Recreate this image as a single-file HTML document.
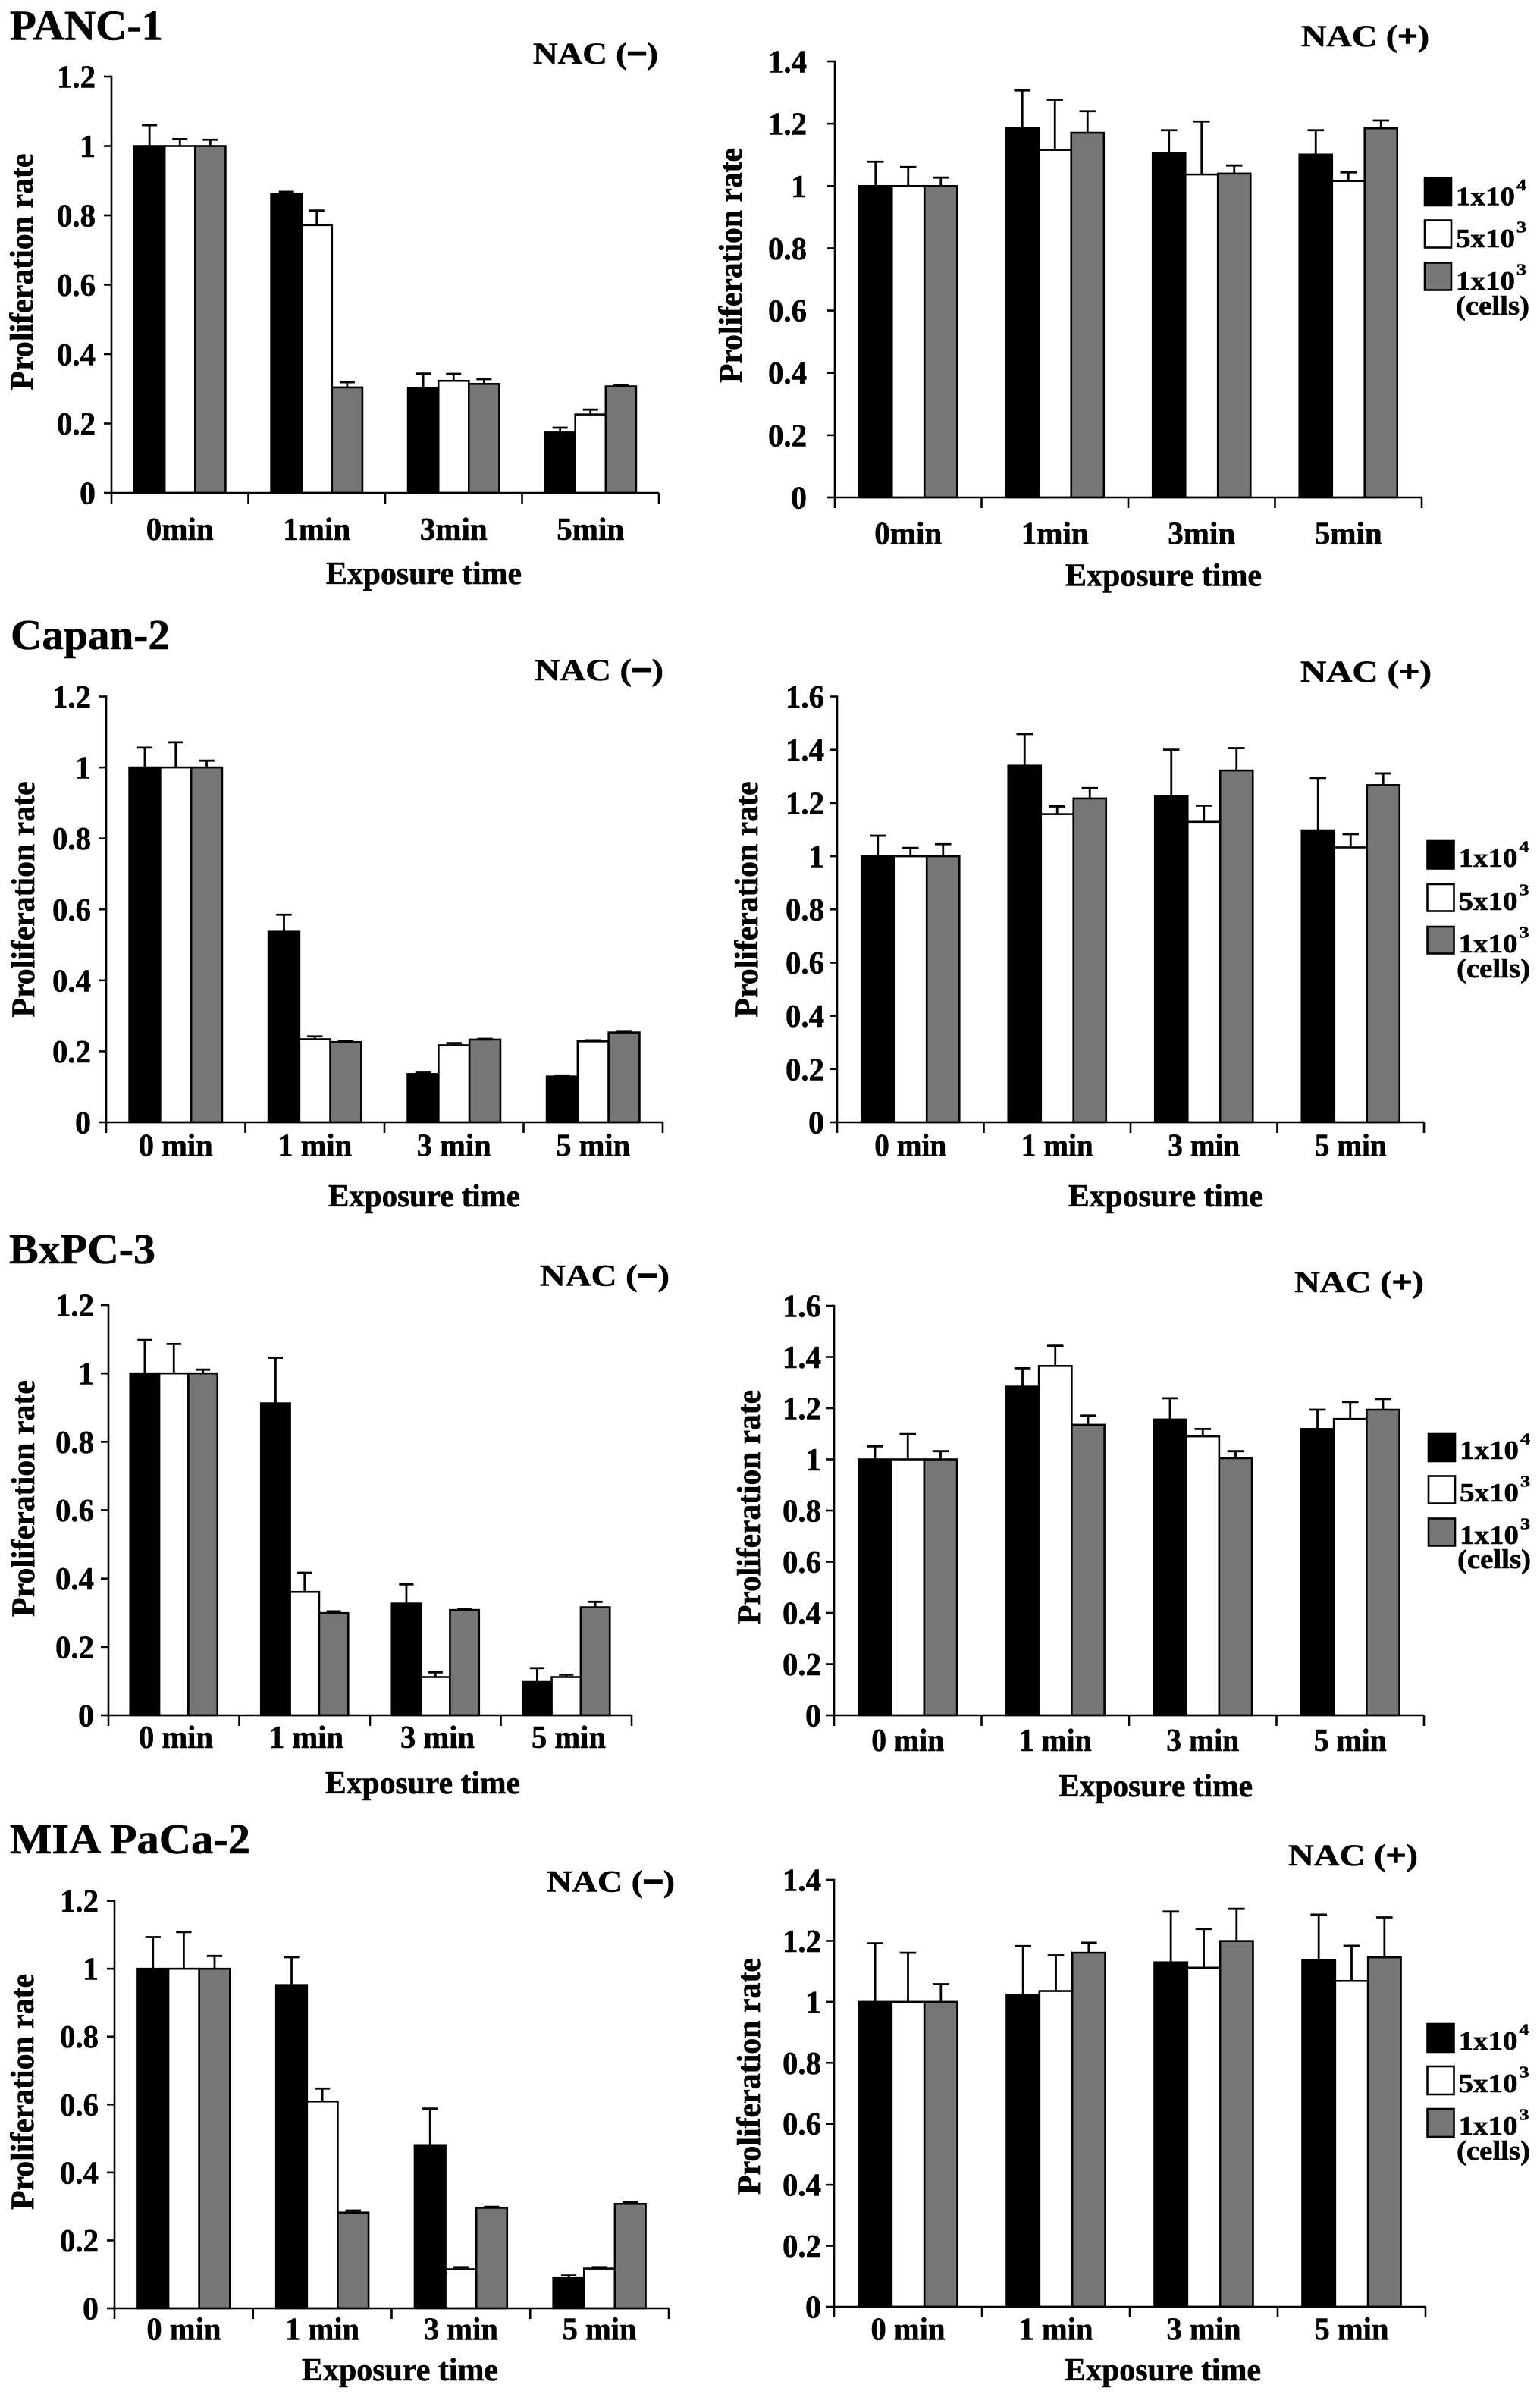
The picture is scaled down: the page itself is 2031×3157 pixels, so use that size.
<!DOCTYPE html>
<html>
<head>
<meta charset="utf-8">
<style>
html,body{margin:0;padding:0;background:#fff;}
svg{display:block;}
text{font-family:"Liberation Serif","Times New Roman",serif;font-weight:700;fill:#000;stroke:#000;stroke-width:0.6px;}
.t{font-size:42px;text-anchor:end;}
.x{font-size:42px;text-anchor:middle;}
.e{font-size:42px;text-anchor:middle;}
.y{font-size:43px;text-anchor:middle;}
.n{font-size:40px;}
.h{font-size:56px;}
.l{font-size:35px;}
.s{font-size:21px;}
.c{font-size:36px;}
.m{stroke-width:3px;}
.p{stroke-width:1.6px;}
</style>
</head>
<body>
<svg id="c" width="2031" height="3157" viewBox="0 0 2031 3157" xmlns="http://www.w3.org/2000/svg">
<rect x="0" y="0" width="2031" height="3157" fill="#fff"/>
<g id="shapes"></g>

<!-- Titles -->
<text class="h" x="13" y="52.5" textLength="202" lengthAdjust="spacingAndGlyphs">PANC-1</text>
<text class="h" x="14" y="856" textLength="210" lengthAdjust="spacingAndGlyphs">Capan-2</text>
<text class="h" x="12" y="1666" textLength="193" lengthAdjust="spacingAndGlyphs">BxPC-3</text>
<text class="h" x="13" y="2444" textLength="317" lengthAdjust="spacingAndGlyphs">MIA PaCa-2</text>

<!-- NAC labels -->
<text class="n" x="703" y="84" textLength="165" lengthAdjust="spacingAndGlyphs">NAC (<tspan class="m">−</tspan>)</text>
<text class="n" x="1716" y="61" textLength="169" lengthAdjust="spacingAndGlyphs">NAC (<tspan class="p">+</tspan>)</text>
<text class="n" x="705" y="897" textLength="170" lengthAdjust="spacingAndGlyphs">NAC (<tspan class="m">−</tspan>)</text>
<text class="n" x="1715" y="899" textLength="173" lengthAdjust="spacingAndGlyphs">NAC (<tspan class="p">+</tspan>)</text>
<text class="n" x="712" y="1695.5" textLength="171" lengthAdjust="spacingAndGlyphs">NAC (<tspan class="m">−</tspan>)</text>
<text class="n" x="1707" y="1704" textLength="171" lengthAdjust="spacingAndGlyphs">NAC (<tspan class="p">+</tspan>)</text>
<text class="n" x="721" y="2494.5" textLength="169" lengthAdjust="spacingAndGlyphs">NAC (<tspan class="m">−</tspan>)</text>
<text class="n" x="1699" y="2460" textLength="171" lengthAdjust="spacingAndGlyphs">NAC (<tspan class="p">+</tspan>)</text>

<!-- Y labels -->
<text class="y" transform="translate(43,358.5) rotate(-90)" textLength="312" lengthAdjust="spacingAndGlyphs">Proliferation rate</text>
<text class="y" transform="translate(978,350) rotate(-90)" textLength="310" lengthAdjust="spacingAndGlyphs">Proliferation rate</text>
<text class="y" transform="translate(45,1186) rotate(-90)" textLength="311" lengthAdjust="spacingAndGlyphs">Proliferation rate</text>
<text class="y" transform="translate(999,1186) rotate(-90)" textLength="311" lengthAdjust="spacingAndGlyphs">Proliferation rate</text>
<text class="y" transform="translate(45,1976) rotate(-90)" textLength="312" lengthAdjust="spacingAndGlyphs">Proliferation rate</text>
<text class="y" transform="translate(1002,1987.5) rotate(-90)" textLength="309" lengthAdjust="spacingAndGlyphs">Proliferation rate</text>
<text class="y" transform="translate(44,2758.5) rotate(-90)" textLength="311" lengthAdjust="spacingAndGlyphs">Proliferation rate</text>
<text class="y" transform="translate(1002,2738) rotate(-90)" textLength="312" lengthAdjust="spacingAndGlyphs">Proliferation rate</text>

<!-- Exposure time -->
<text class="e" x="559" y="770" textLength="258" lengthAdjust="spacingAndGlyphs">Exposure time</text>
<text class="e" x="1534.5" y="772.5" textLength="259" lengthAdjust="spacingAndGlyphs">Exposure time</text>
<text class="e" x="559.5" y="1591" textLength="253" lengthAdjust="spacingAndGlyphs">Exposure time</text>
<text class="e" x="1537.5" y="1591" textLength="257" lengthAdjust="spacingAndGlyphs">Exposure time</text>
<text class="e" x="557.5" y="2365" textLength="257" lengthAdjust="spacingAndGlyphs">Exposure time</text>
<text class="e" x="1524" y="2369" textLength="256" lengthAdjust="spacingAndGlyphs">Exposure time</text>
<text class="e" x="527.5" y="3139" textLength="259" lengthAdjust="spacingAndGlyphs">Exposure time</text>
<text class="e" x="1533.5" y="3139" textLength="259" lengthAdjust="spacingAndGlyphs">Exposure time</text>

<!-- X category labels -->
<text class="x" x="237.25" y="712" textLength="89" lengthAdjust="spacingAndGlyphs">0min</text>
<text class="x" x="417.75" y="712" textLength="89" lengthAdjust="spacingAndGlyphs">1min</text>
<text class="x" x="598.25" y="712" textLength="89" lengthAdjust="spacingAndGlyphs">3min</text>
<text class="x" x="778.75" y="712" textLength="89" lengthAdjust="spacingAndGlyphs">5min</text>

<text class="x" x="1197.75" y="717.5" textLength="89" lengthAdjust="spacingAndGlyphs">0min</text>
<text class="x" x="1391.25" y="717.5" textLength="89" lengthAdjust="spacingAndGlyphs">1min</text>
<text class="x" x="1584.75" y="717.5" textLength="89" lengthAdjust="spacingAndGlyphs">3min</text>
<text class="x" x="1778.25" y="717.5" textLength="89" lengthAdjust="spacingAndGlyphs">5min</text>

<text class="x" x="231.75" y="1524.5" textLength="98" lengthAdjust="spacingAndGlyphs">0 min</text>
<text class="x" x="415.25" y="1524.5" textLength="98" lengthAdjust="spacingAndGlyphs">1 min</text>
<text class="x" x="598.75" y="1524.5" textLength="98" lengthAdjust="spacingAndGlyphs">3 min</text>
<text class="x" x="782.25" y="1524.5" textLength="98" lengthAdjust="spacingAndGlyphs">5 min</text>

<text class="x" x="1200.75" y="1524.5" textLength="95" lengthAdjust="spacingAndGlyphs">0 min</text>
<text class="x" x="1394.25" y="1524.5" textLength="95" lengthAdjust="spacingAndGlyphs">1 min</text>
<text class="x" x="1587.75" y="1524.5" textLength="95" lengthAdjust="spacingAndGlyphs">3 min</text>
<text class="x" x="1781.25" y="1524.5" textLength="95" lengthAdjust="spacingAndGlyphs">5 min</text>

<text class="x" x="232" y="2305" textLength="98" lengthAdjust="spacingAndGlyphs">0 min</text>
<text class="x" x="404" y="2305" textLength="98" lengthAdjust="spacingAndGlyphs">1 min</text>
<text class="x" x="577" y="2305" textLength="98" lengthAdjust="spacingAndGlyphs">3 min</text>
<text class="x" x="750" y="2305" textLength="98" lengthAdjust="spacingAndGlyphs">5 min</text>

<text class="x" x="1197.25" y="2309" textLength="96" lengthAdjust="spacingAndGlyphs">0 min</text>
<text class="x" x="1391.75" y="2309" textLength="96" lengthAdjust="spacingAndGlyphs">1 min</text>
<text class="x" x="1586.25" y="2309" textLength="96" lengthAdjust="spacingAndGlyphs">3 min</text>
<text class="x" x="1780.75" y="2309" textLength="96" lengthAdjust="spacingAndGlyphs">5 min</text>

<text class="x" x="242.4" y="3085.6" textLength="98" lengthAdjust="spacingAndGlyphs">0 min</text>
<text class="x" x="425.1" y="3085.6" textLength="98" lengthAdjust="spacingAndGlyphs">1 min</text>
<text class="x" x="607.9" y="3085.6" textLength="98" lengthAdjust="spacingAndGlyphs">3 min</text>
<text class="x" x="790.6" y="3085.6" textLength="98" lengthAdjust="spacingAndGlyphs">5 min</text>

<text class="x" x="1197.5" y="3085.6" textLength="98" lengthAdjust="spacingAndGlyphs">0 min</text>
<text class="x" x="1392.5" y="3085.6" textLength="98" lengthAdjust="spacingAndGlyphs">1 min</text>
<text class="x" x="1587.5" y="3085.6" textLength="98" lengthAdjust="spacingAndGlyphs">3 min</text>
<text class="x" x="1782.5" y="3085.6" textLength="98" lengthAdjust="spacingAndGlyphs">5 min</text>

<!-- Y tick labels P1L -->
<text class="t" x="126" y="664.5" textLength="21" lengthAdjust="spacingAndGlyphs">0</text>
<text class="t" x="126" y="573" textLength="51" lengthAdjust="spacingAndGlyphs">0.2</text>
<text class="t" x="126" y="481.5" textLength="51" lengthAdjust="spacingAndGlyphs">0.4</text>
<text class="t" x="126" y="390" textLength="51" lengthAdjust="spacingAndGlyphs">0.6</text>
<text class="t" x="126" y="298.5" textLength="51" lengthAdjust="spacingAndGlyphs">0.8</text>
<text class="t" x="126" y="207" textLength="21" lengthAdjust="spacingAndGlyphs">1</text>
<text class="t" x="126" y="115.5" textLength="51" lengthAdjust="spacingAndGlyphs">1.2</text>
<!-- P1R -->
<text class="t" x="1064" y="670.5" textLength="21" lengthAdjust="spacingAndGlyphs">0</text>
<text class="t" x="1064" y="588.4" textLength="51" lengthAdjust="spacingAndGlyphs">0.2</text>
<text class="t" x="1064" y="506.2" textLength="51" lengthAdjust="spacingAndGlyphs">0.4</text>
<text class="t" x="1064" y="424.1" textLength="51" lengthAdjust="spacingAndGlyphs">0.6</text>
<text class="t" x="1064" y="341.9" textLength="51" lengthAdjust="spacingAndGlyphs">0.8</text>
<text class="t" x="1064" y="259.8" textLength="21" lengthAdjust="spacingAndGlyphs">1</text>
<text class="t" x="1064" y="177.6" textLength="51" lengthAdjust="spacingAndGlyphs">1.2</text>
<text class="t" x="1064" y="95.5" textLength="51" lengthAdjust="spacingAndGlyphs">1.4</text>
<!-- P2L -->
<text class="t" x="120" y="1494.5" textLength="21" lengthAdjust="spacingAndGlyphs">0</text>
<text class="t" x="120" y="1400.9" textLength="51" lengthAdjust="spacingAndGlyphs">0.2</text>
<text class="t" x="120" y="1307.3" textLength="51" lengthAdjust="spacingAndGlyphs">0.4</text>
<text class="t" x="120" y="1213.8" textLength="51" lengthAdjust="spacingAndGlyphs">0.6</text>
<text class="t" x="120" y="1120.2" textLength="51" lengthAdjust="spacingAndGlyphs">0.8</text>
<text class="t" x="120" y="1026.6" textLength="21" lengthAdjust="spacingAndGlyphs">1</text>
<text class="t" x="120" y="933" textLength="51" lengthAdjust="spacingAndGlyphs">1.2</text>
<!-- P2R -->
<text class="t" x="1087" y="1494.5" textLength="21" lengthAdjust="spacingAndGlyphs">0</text>
<text class="t" x="1087" y="1424.3" textLength="51" lengthAdjust="spacingAndGlyphs">0.2</text>
<text class="t" x="1087" y="1354.1" textLength="51" lengthAdjust="spacingAndGlyphs">0.4</text>
<text class="t" x="1087" y="1283.9" textLength="51" lengthAdjust="spacingAndGlyphs">0.6</text>
<text class="t" x="1087" y="1213.7" textLength="51" lengthAdjust="spacingAndGlyphs">0.8</text>
<text class="t" x="1087" y="1143.6" textLength="21" lengthAdjust="spacingAndGlyphs">1</text>
<text class="t" x="1087" y="1073.4" textLength="51" lengthAdjust="spacingAndGlyphs">1.2</text>
<text class="t" x="1087" y="1003.2" textLength="51" lengthAdjust="spacingAndGlyphs">1.4</text>
<text class="t" x="1087" y="933" textLength="51" lengthAdjust="spacingAndGlyphs">1.6</text>
<!-- P3L -->
<text class="t" x="124" y="2276.5" textLength="21" lengthAdjust="spacingAndGlyphs">0</text>
<text class="t" x="124" y="2186.3" textLength="51" lengthAdjust="spacingAndGlyphs">0.2</text>
<text class="t" x="124" y="2096.2" textLength="51" lengthAdjust="spacingAndGlyphs">0.4</text>
<text class="t" x="124" y="2006" textLength="51" lengthAdjust="spacingAndGlyphs">0.6</text>
<text class="t" x="124" y="1915.8" textLength="51" lengthAdjust="spacingAndGlyphs">0.8</text>
<text class="t" x="124" y="1825.7" textLength="21" lengthAdjust="spacingAndGlyphs">1</text>
<text class="t" x="124" y="1735.5" textLength="51" lengthAdjust="spacingAndGlyphs">1.2</text>
<!-- P3R -->
<text class="t" x="1083" y="2276.5" textLength="21" lengthAdjust="spacingAndGlyphs">0</text>
<text class="t" x="1083" y="2209" textLength="51" lengthAdjust="spacingAndGlyphs">0.2</text>
<text class="t" x="1083" y="2141.5" textLength="51" lengthAdjust="spacingAndGlyphs">0.4</text>
<text class="t" x="1083" y="2074" textLength="51" lengthAdjust="spacingAndGlyphs">0.6</text>
<text class="t" x="1083" y="2006.5" textLength="51" lengthAdjust="spacingAndGlyphs">0.8</text>
<text class="t" x="1083" y="1939" textLength="21" lengthAdjust="spacingAndGlyphs">1</text>
<text class="t" x="1083" y="1871.5" textLength="51" lengthAdjust="spacingAndGlyphs">1.2</text>
<text class="t" x="1083" y="1804" textLength="51" lengthAdjust="spacingAndGlyphs">1.4</text>
<text class="t" x="1083" y="1736.5" textLength="51" lengthAdjust="spacingAndGlyphs">1.6</text>
<!-- P4L -->
<text class="t" x="130" y="3058.5" textLength="21" lengthAdjust="spacingAndGlyphs">0</text>
<text class="t" x="130" y="2968.9" textLength="51" lengthAdjust="spacingAndGlyphs">0.2</text>
<text class="t" x="130" y="2879.4" textLength="51" lengthAdjust="spacingAndGlyphs">0.4</text>
<text class="t" x="130" y="2789.8" textLength="51" lengthAdjust="spacingAndGlyphs">0.6</text>
<text class="t" x="130" y="2700.2" textLength="51" lengthAdjust="spacingAndGlyphs">0.8</text>
<text class="t" x="130" y="2610.7" textLength="21" lengthAdjust="spacingAndGlyphs">1</text>
<text class="t" x="130" y="2521.1" textLength="51" lengthAdjust="spacingAndGlyphs">1.2</text>
<!-- P4R -->
<text class="t" x="1083" y="3056.5" textLength="21" lengthAdjust="spacingAndGlyphs">0</text>
<text class="t" x="1083" y="2976.1" textLength="51" lengthAdjust="spacingAndGlyphs">0.2</text>
<text class="t" x="1083" y="2895.6" textLength="51" lengthAdjust="spacingAndGlyphs">0.4</text>
<text class="t" x="1083" y="2815.2" textLength="51" lengthAdjust="spacingAndGlyphs">0.6</text>
<text class="t" x="1083" y="2734.8" textLength="51" lengthAdjust="spacingAndGlyphs">0.8</text>
<text class="t" x="1083" y="2654.4" textLength="21" lengthAdjust="spacingAndGlyphs">1</text>
<text class="t" x="1083" y="2573.9" textLength="51" lengthAdjust="spacingAndGlyphs">1.2</text>
<text class="t" x="1083" y="2493.5" textLength="51" lengthAdjust="spacingAndGlyphs">1.4</text>

<!-- Legends -->
<g stroke="#000" stroke-width="2.6">
<rect x="1879" y="234.5" width="35" height="36.5" fill="#000"/>
<rect x="1879" y="290.5" width="35" height="36" fill="#fff"/>
<rect x="1879" y="346.5" width="35" height="36" fill="#767676"/>

<rect x="1882.5" y="1109" width="35" height="36.5" fill="#000"/>
<rect x="1882.5" y="1166" width="35" height="35.5" fill="#fff"/>
<rect x="1882.5" y="1222" width="35" height="35.5" fill="#767676"/>

<rect x="1884" y="1891" width="35" height="36" fill="#000"/>
<rect x="1884" y="1946.5" width="35" height="36" fill="#fff"/>
<rect x="1884" y="2002.5" width="35" height="36" fill="#767676"/>

<rect x="1882.5" y="2669" width="35" height="37" fill="#000"/>
<rect x="1882.5" y="2725" width="35" height="37" fill="#fff"/>
<rect x="1882.5" y="2781" width="35" height="37" fill="#767676"/>
</g>

<text class="l" x="1920" y="270.5" textLength="78" lengthAdjust="spacingAndGlyphs">1x10</text><text class="s" x="2000" y="251" textLength="13" lengthAdjust="spacingAndGlyphs">4</text>
<text class="l" x="1920" y="326" textLength="78" lengthAdjust="spacingAndGlyphs">5x10</text><text class="s" x="2000" y="306.5" textLength="13" lengthAdjust="spacingAndGlyphs">3</text>
<text class="l" x="1920" y="382" textLength="78" lengthAdjust="spacingAndGlyphs">1x10</text><text class="s" x="2000" y="362.5" textLength="13" lengthAdjust="spacingAndGlyphs">3</text>
<text class="c" x="1920" y="415" textLength="97" lengthAdjust="spacingAndGlyphs">(cells)</text>

<text class="l" x="1923.5" y="1143" textLength="78" lengthAdjust="spacingAndGlyphs">1x10</text><text class="s" x="2003.5" y="1123.5" textLength="13" lengthAdjust="spacingAndGlyphs">4</text>
<text class="l" x="1923.5" y="1200" textLength="78" lengthAdjust="spacingAndGlyphs">5x10</text><text class="s" x="2003.5" y="1180.5" textLength="13" lengthAdjust="spacingAndGlyphs">3</text>
<text class="l" x="1923.5" y="1256" textLength="78" lengthAdjust="spacingAndGlyphs">1x10</text><text class="s" x="2003.5" y="1236.5" textLength="13" lengthAdjust="spacingAndGlyphs">3</text>
<text class="c" x="1921" y="1289" textLength="97" lengthAdjust="spacingAndGlyphs">(cells)</text>

<text class="l" x="1925" y="1924" textLength="78" lengthAdjust="spacingAndGlyphs">1x10</text><text class="s" x="2005" y="1904.5" textLength="13" lengthAdjust="spacingAndGlyphs">4</text>
<text class="l" x="1925" y="1980" textLength="78" lengthAdjust="spacingAndGlyphs">5x10</text><text class="s" x="2005" y="1960.5" textLength="13" lengthAdjust="spacingAndGlyphs">3</text>
<text class="l" x="1925" y="2036" textLength="78" lengthAdjust="spacingAndGlyphs">1x10</text><text class="s" x="2005" y="2016.5" textLength="13" lengthAdjust="spacingAndGlyphs">3</text>
<text class="c" x="1922" y="2068" textLength="97" lengthAdjust="spacingAndGlyphs">(cells)</text>

<text class="l" x="1923.5" y="2703" textLength="78" lengthAdjust="spacingAndGlyphs">1x10</text><text class="s" x="2003.5" y="2683.5" textLength="13" lengthAdjust="spacingAndGlyphs">4</text>
<text class="l" x="1923.5" y="2759" textLength="78" lengthAdjust="spacingAndGlyphs">5x10</text><text class="s" x="2003.5" y="2739.5" textLength="13" lengthAdjust="spacingAndGlyphs">3</text>
<text class="l" x="1923.5" y="2815" textLength="78" lengthAdjust="spacingAndGlyphs">1x10</text><text class="s" x="2003.5" y="2795.5" textLength="13" lengthAdjust="spacingAndGlyphs">3</text>
<text class="c" x="1921" y="2848" textLength="97" lengthAdjust="spacingAndGlyphs">(cells)</text>
</svg>

<script>
(function(){
var NS='http://www.w3.org/2000/svg';
var g=document.getElementById('shapes');
function el(t,a){var e=document.createElementNS(NS,t);for(var k in a)e.setAttribute(k,a[k]);g.appendChild(e);return e;}
var fills=['#000','#fff','#767676'];
var P=[
{x0:147,x1:869,yb:650,yt:101,max:1.2,d:[
[[1,1.06],[1,1.02],[1,1.018]],
[[0.862,0.868],[0.772,0.814],[0.304,0.319]],
[[0.303,0.344],[0.323,0.343],[0.314,0.328]],
[[0.174,0.188],[0.226,0.24],[0.307,0.31]]]},
{x0:1101,x1:1875,yb:656,yt:81,max:1.4,d:[
[[1,1.078],[1,1.061],[1,1.027]],
[[1.185,1.307],[1.116,1.277],[1.171,1.240]],
[[1.106,1.179],[1.037,1.207],[1.040,1.066]],
[[1.101,1.179],[1.016,1.044],[1.185,1.210]]]},
{x0:140,x1:874,yb:1480,yt:918.5,max:1.2,d:[
[[1,1.056],[1,1.071],[1,1.019]],
[[0.537,0.585],[0.234,0.242],[0.226,0.229]],
[[0.136,0.14],[0.217,0.223],[0.233,0.235]],
[[0.129,0.132],[0.228,0.231],[0.253,0.257]]]},
{x0:1104,x1:1878,yb:1480,yt:918.5,max:1.6,d:[
[[1,1.077],[1,1.031],[1,1.045]],
[[1.340,1.459],[1.158,1.187],[1.217,1.256]],
[[1.227,1.400],[1.129,1.190],[1.322,1.406]],
[[1.097,1.294],[1.033,1.083],[1.267,1.311]]]},
{x0:143,x1:833,yb:2262,yt:1721,max:1.2,d:[
[[1,1.0975],[1,1.086],[1,1.011]],
[[0.9126,1.046],[0.361,0.417],[0.299,0.304]],
[[0.327,0.383],[0.112,0.1256],[0.308,0.312]],
[[0.0975,0.138],[0.112,0.119],[0.316,0.332]]]},
{x0:1100,x1:1878,yb:2262,yt:1722,max:1.6,d:[
[[1,1.051],[1,1.099],[1,1.032]],
[[1.284,1.356],[1.365,1.444],[1.135,1.171]],
[[1.156,1.239],[1.090,1.119],[1.0045,1.032]],
[[1.119,1.194],[1.158,1.224],[1.194,1.236]]]},
{x0:151,x1:882,yb:3044,yt:2506.6,max:1.2,d:[
[[1,1.093],[1,1.108],[1,1.0376]],
[[0.952,1.034],[0.609,0.647],[0.282,0.288]],
[[0.4806,0.588],[0.115,0.121],[0.296,0.299]],
[[0.0888,0.0968],[0.117,0.121],[0.3075,0.313]]]},
{x0:1100,x1:1880,yb:3042,yt:2479,max:1.4,d:[
[[1,1.192],[1,1.161],[1,1.058]],
[[1.023,1.183],[1.0356,1.1525],[1.161,1.194]],
[[1.1296,1.296],[1.112,1.239],[1.1995,1.305]],
[[1.137,1.286],[1.0686,1.184],[1.146,1.277]]]}
];
P.forEach(function(p){
  var cat=(p.x1-p.x0)/4, bw=cat/4.5, sc=(p.yb-p.yt)/p.max;
  function Y(v){return p.yb-v*sc;}
  p.d.forEach(function(grp,i){grp.forEach(function(b,j){
    var bx=p.x0+i*cat+0.75*bw+j*bw;
    el('rect',{x:bx,y:Y(b[0]),width:bw,height:p.yb-Y(b[0]),fill:fills[j],stroke:'#000','stroke-width':2.6});
  });});
  p.d.forEach(function(grp,i){grp.forEach(function(b,j){
    var cx=p.x0+i*cat+0.75*bw+(j+0.5)*bw;
    var ye=Y(b[1]);
    el('line',{x1:cx,y1:Y(b[0]),x2:cx,y2:ye,stroke:'#000','stroke-width':2.8});
    el('line',{x1:cx-bw/4,y1:ye,x2:cx+bw/4,y2:ye,stroke:'#000','stroke-width':2.8});
  });});
  el('line',{x1:p.x0,y1:p.yt-1.2,x2:p.x0,y2:p.yb+1.3,stroke:'#000','stroke-width':2.6});
  el('line',{x1:p.x0,y1:p.yb,x2:p.x1,y2:p.yb,stroke:'#000','stroke-width':2.6});
  var n=Math.round(p.max/0.2);
  for(var k=0;k<=n;k++){var y=Y(k*0.2);el('line',{x1:p.x0-10,y1:y,x2:p.x0,y2:y,stroke:'#000','stroke-width':2.6});}
  for(var i=0;i<=4;i++){var x=p.x0+i*cat;el('line',{x1:x,y1:p.yb,x2:x,y2:p.yb+14,stroke:'#000','stroke-width':2.6});}
});
})();
</script>
</body>
</html>
